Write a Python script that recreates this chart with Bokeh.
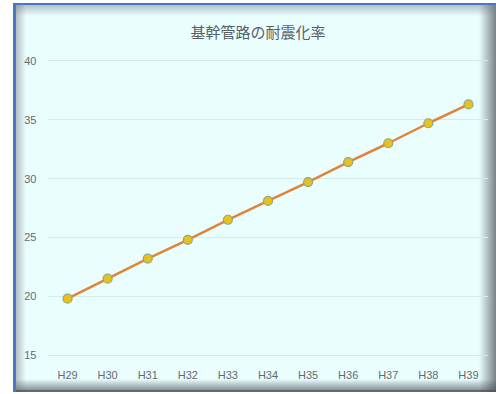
from bokeh.plotting import figure
from bokeh.models import Range1d, FactorRange
from bokeh.embed import file_html
from bokeh.resources import INLINE

# 基幹管路の耐震化率 (%), fiscal years H29–H39
years = ["H29", "H30", "H31", "H32", "H33", "H34", "H35", "H36", "H37", "H38", "H39"]
rates = [19.8, 21.5, 23.2, 24.8, 26.5, 28.1, 29.7, 31.4, 33.0, 34.7, 36.3]
y_ticks = [15, 20, 25, 30, 35, 40]

W, H = 496, 394
CARD = "#ebfefe"
TEXT = "#5f6a74"

p = figure(width=W, height=H, x_range=FactorRange(*years), y_range=Range1d(14.8, 40.2),
           output_backend="svg", toolbar_location=None,
           min_border_left=47, min_border_right=8, min_border_top=58, min_border_bottom=37)
p.x_range.range_padding = 0

# transparent canvas: the card look (border, inner shadow) comes from the host element's CSS
p.background_fill_color = None
p.border_fill_color = None
p.outline_line_color = None


def solid(c):
    return f"linear-gradient({c}, {c})"


layers = [
    f"{solid('white')} 0 0 / 13px 100% no-repeat",
    f"{solid('white')} 0 0 / 100% 3px no-repeat",
    f"{solid('white')} 0 392px / 100% 2px no-repeat",
    f"{solid('#4a76c6')} 13px 3px / 3px 389px no-repeat",
    f"{solid('#4a76c6')} 13px 3px / 483px 2px no-repeat",
    f"{solid('rgba(70,80,95,0.85)')} 16px 390px / 480px 2px no-repeat",
    "linear-gradient(to bottom, rgba(110,118,126,0.45), rgba(110,118,126,0)) 16px 5px / 480px 11px no-repeat",
    "linear-gradient(to right, rgba(110,118,126,0.45), rgba(110,118,126,0)) 16px 5px / 10px 387px no-repeat",
    "linear-gradient(to right, rgba(70,78,86,0), rgba(70,78,86,0.7)) 479px 5px / 17px 387px no-repeat",
    "linear-gradient(to bottom, rgba(70,78,86,0), rgba(70,78,86,0.6)) 16px 379px / 480px 11px no-repeat",
    f"{solid(CARD)}",
]
p.styles = {"background": ", ".join(layers)}

p.title.text = "基幹管路の耐震化率"
p.title.align = "left"
p.title.offset = 143
p.title.text_font = "Noto Sans CJK JP"
p.title.text_font_size = "15px"
p.title.text_font_style = "normal"
p.title.text_color = "#55606a"
p.title.standoff = 34

for ax in (p.xaxis, p.yaxis):
    ax.axis_line_color = None
    ax.major_tick_line_color = None
    ax.minor_tick_line_color = None
    ax.major_label_text_font = "Liberation Sans"
    ax.major_label_text_font_size = "11px"
    ax.major_label_text_color = TEXT
p.xaxis.major_label_standoff = 5
p.yaxis.major_label_standoff = 5
p.yaxis.ticker = y_ticks
p.xgrid.grid_line_color = None
p.ygrid.grid_line_color = "#d3ecec"
p.ygrid.grid_line_width = 1

p.line(years, rates, line_color="#e0843a", line_width=2.5)
p.scatter(years, rates, size=9, fill_color="#e6c21a", line_color="#8fa58a", line_width=1.2)

open("out.html", "w").write(file_html(p, INLINE))
